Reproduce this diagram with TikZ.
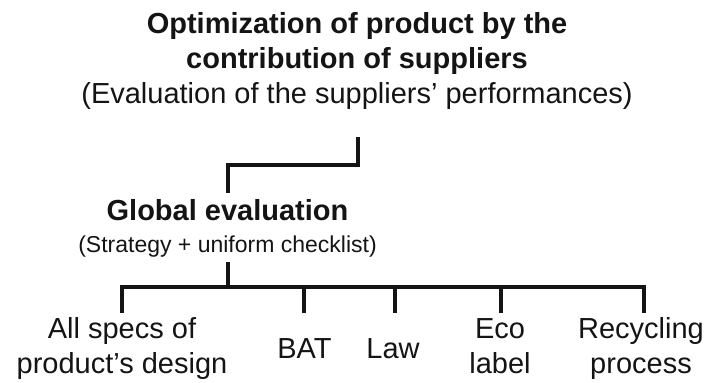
\documentclass[tikz,border=0pt]{standalone}
\usepackage{fontspec}
\setmainfont{Liberation Sans}
\begin{document}
\begin{tikzpicture}[x=0.75pt,y=-0.75pt,
  txt/.style={inner sep=0pt, align=center, anchor=base, text=black!92,
    font=\fontsize{21.75}{26.25}\selectfont},
  conn/.style={line width=2.4pt, draw=black!92, line join=miter}]
\useasboundingbox (0,0) rectangle (709,382);
% texts (anchor = baseline of the last line)
\node[txt] (title) at (357,103) {\textbf{Optimization of product by the}\\\textbf{contribution of suppliers}\\(Evaluation of the suppliers’ performances)};
\node[txt, font=\fontsize{21.75}{24}\selectfont] (glob) at (227.5,252) {\textbf{Global evaluation}\\{\fontsize{17.25}{24}\selectfont (Strategy + uniform checklist)}};
\node[txt] (specs) at (122,373) {All specs of\\product’s design};
\node[txt] (bat) at (304.5,358) {BAT};
\node[txt] (law) at (393,358) {Law};
\node[txt] (eco) at (500,373) {Eco\\label};
\node[txt] (rec) at (641,373) {Recycling\\process};
% connector end points
\coordinate (tA) at (358,137);
\coordinate (gIn) at (228,193);
\coordinate (gOut) at (228,262);
\coordinate (bus) at (228,287);
\coordinate (lA) at (122,313);
\coordinate (lB) at (304,313);
\coordinate (lC) at (395,313);
\coordinate (lD) at (501,313);
\coordinate (lE) at (644,313);
% connectors
\draw[conn] (tA) -- ++(0,28) -| (gIn);
\draw[conn] (gOut) -- (bus);
\draw[conn] (bus) -| (lA);
\draw[conn] (bus) -| (lB);
\draw[conn] (bus) -| (lC);
\draw[conn] (bus) -| (lD);
\draw[conn] (bus) -| (lE);
\end{tikzpicture}
\end{document}
